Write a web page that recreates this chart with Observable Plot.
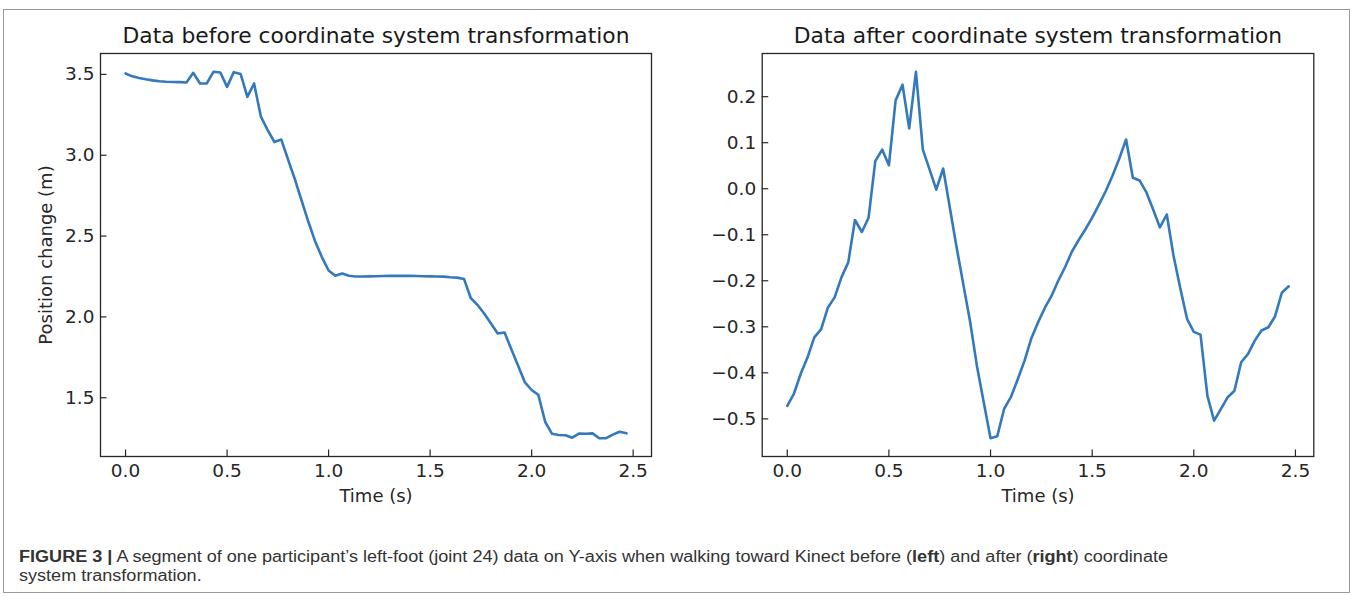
<!DOCTYPE html>
<html>
<head>
<meta charset="utf-8">
<script src="https://cdn.jsdelivr.net/npm/d3@7"></script>
<script src="https://cdn.jsdelivr.net/npm/@observablehq/plot@0.6"></script>
<style>
  html, body { margin: 0; padding: 0; background: #fff; }
  #root { position: relative; width: 1357px; height: 596px; overflow: hidden; }
  #box { position: absolute; left: 3px; top: 9px; width: 1347px; height: 584px; border: 1.5px solid #9a9a9a; box-sizing: border-box; }
  .panel { position: absolute; top: 0; }
  #caption { position: absolute; left: 19px; top: 547px; font-family: "Liberation Sans Narrow", "Liberation Sans", Arial, sans-serif; font-size: 16px; line-height: 19px; color: #333; white-space: nowrap; transform-origin: 0 0; }
  #caption span.line { display: inline-block; }
</style>
</head>
<body>
<div id="root">
  <div id="box"></div>
  <div id="left" class="panel" style="left:0px"></div>
  <div id="right" class="panel" style="left:680px"></div>
  <div id="caption"><span class="line" id="line1"><b>FIGURE 3 |</b> A segment of one participant’s left-foot (joint 24) data on Y-axis when walking toward Kinect before (<b>left</b>) and after (<b>right</b>) coordinate</span><br><span class="line">system transformation.</span></div>
</div>
<script>
// ---- data ----
const timeS = [0,0.033,0.067,0.1,0.133,0.167,0.2,0.233,0.267,0.3,0.333,0.367,0.4,0.433,0.467,0.5,0.533,0.567,0.6,0.633,0.667,0.7,0.733,0.767,0.8,0.833,0.867,0.9,0.933,0.967,1.0,1.033,1.067,1.1,1.133,1.167,1.2,1.233,1.267,1.3,1.333,1.367,1.4,1.433,1.467,1.5,1.533,1.567,1.6,1.633,1.667,1.7,1.733,1.767,1.8,1.833,1.867,1.9,1.933,1.967,2.0,2.033,2.067,2.1,2.133,2.167,2.2,2.233,2.267,2.3,2.333,2.367,2.4,2.433,2.467];

const beforeM = [3.506,3.488,3.478,3.470,3.463,3.458,3.455,3.453,3.452,3.450,
3.510,3.444,3.444,3.516,3.512,3.423,3.514,3.502,3.361,3.444,
3.237,3.155,3.082,3.097,2.975,2.855,2.72,2.59,2.47,2.37,
2.287,2.254,2.268,2.255,2.25,2.25,2.251,2.252,2.253,2.254,
2.254,2.254,2.254,2.253,2.252,2.251,2.25,2.249,2.245,2.243,
2.235,2.117,2.075,2.02,1.96,1.898,1.904,1.80,1.70,1.595,
1.548,1.518,1.35,1.278,1.27,1.268,1.253,1.278,1.277,1.28,
1.25,1.25,1.272,1.29,1.28];

const afterM = [-0.472,-0.445,-0.401,-0.366,-0.323,-0.305,-0.258,-0.236,-0.192,-0.160,
-0.068,-0.094,-0.063,0.060,0.085,0.051,0.192,0.226,0.131,0.254,
0.085,0.042,-0.002,0.044,-0.042,-0.127,-0.21,-0.29,-0.385,-0.465,
-0.542,-0.538,-0.478,-0.453,-0.415,-0.374,-0.326,-0.291,-0.259,-0.233,
-0.20,-0.17,-0.137,-0.112,-0.088,-0.063,-0.035,-0.005,0.028,0.065,
0.107,0.024,0.018,-0.008,-0.045,-0.084,-0.056,-0.145,-0.215,-0.283,
-0.311,-0.317,-0.45,-0.504,-0.479,-0.453,-0.439,-0.377,-0.359,-0.330,
-0.308,-0.301,-0.277,-0.226,-0.212];

const xTicks = [0, 0.5, 1.0, 1.5, 2.0, 2.5];
const yTicksBefore = [1.5, 2.0, 2.5, 3.0, 3.5];
const yTicksAfter = [-0.5, -0.4, -0.3, -0.2, -0.1, 0.0, 0.1, 0.2];

const titleBefore = "Data before coordinate system transformation";
const titleAfter = "Data after coordinate system transformation";
const xLabel = "Time (s)";
const yLabelBefore = "Position change (m)";

// ---- helpers ----
function padDomain(arr) {
  const [a, b] = d3.extent(arr);
  const p = (b - a) * 0.05;
  return [a - p, b + p];
}

function panel({values, yTicks, title, yLabel, width, marginLeft, marginRight}) {
  const height = 515, marginTop = 53, marginBottom = 59;
  const plotW = width - marginLeft - marginRight;
  const plotH = height - marginTop - marginBottom;
  const data = timeS.map((t, i) => ({t, v: values[i]}));
  const ink = "#262626";
  const marks = [
    Plot.line(data, {x: "t", y: "v", stroke: "#3479bb", strokeWidth: 2.6, strokeLinejoin: "round"}),
    Plot.tickX(xTicks, {x: d => d, insetTop: plotH - 6.5, stroke: ink, strokeWidth: 1.2}),
    Plot.tickY(yTicks, {y: d => d, insetRight: plotW - 6.5, stroke: ink, strokeWidth: 1.2}),
    Plot.frame({stroke: ink, strokeWidth: 1.3}),
    Plot.axisX({ticks: xTicks, tickSize: 0, tickPadding: 7, tickFormat: d3.format(".1f"), fontSize: 18.5, fill: ink, label: null}),
    Plot.axisY({ticks: yTicks, tickSize: 0, tickPadding: 6, tickFormat: d3.format(".1f"), fontSize: 18.5, fill: ink, label: null}),
    Plot.text([title], {text: d => d, frameAnchor: "top", lineAnchor: "bottom", dy: -10.5, fontSize: 21.8, fill: "#1a1a1a"}),
    Plot.text([xLabel], {text: d => d, frameAnchor: "bottom", lineAnchor: "bottom", dy: 45.5, fontSize: 18, fill: ink})
  ];
  if (yLabel) {
    marks.push(Plot.text([yLabel], {text: d => d, frameAnchor: "left", textAnchor: "middle", lineAnchor: "bottom", rotate: -90, dx: -49, fontSize: 18, fill: ink}));
  }
  return Plot.plot({
    width, height, marginTop, marginBottom, marginLeft, marginRight,
    style: {fontFamily: "DejaVu Sans", background: "transparent", overflow: "visible"},
    x: {domain: padDomain(timeS)},
    y: {domain: padDomain(values)},
    marks
  });
}

document.getElementById("left").append(panel({
  values: beforeM, yTicks: yTicksBefore, title: titleBefore, yLabel: yLabelBefore,
  width: 680, marginLeft: 100, marginRight: 29
}));
document.getElementById("right").append(panel({
  values: afterM, yTicks: yTicksAfter, title: titleAfter, yLabel: null,
  width: 677, marginLeft: 81.7, marginRight: 43.7
}));

// fit caption line 1 to its width in the reference
const cap = document.getElementById("caption");
const w = document.getElementById("line1").getBoundingClientRect().width;
const target = 1149;
if (w > 0) cap.style.transform = `scaleX(${target / w})`;
</script>
</body>
</html>
